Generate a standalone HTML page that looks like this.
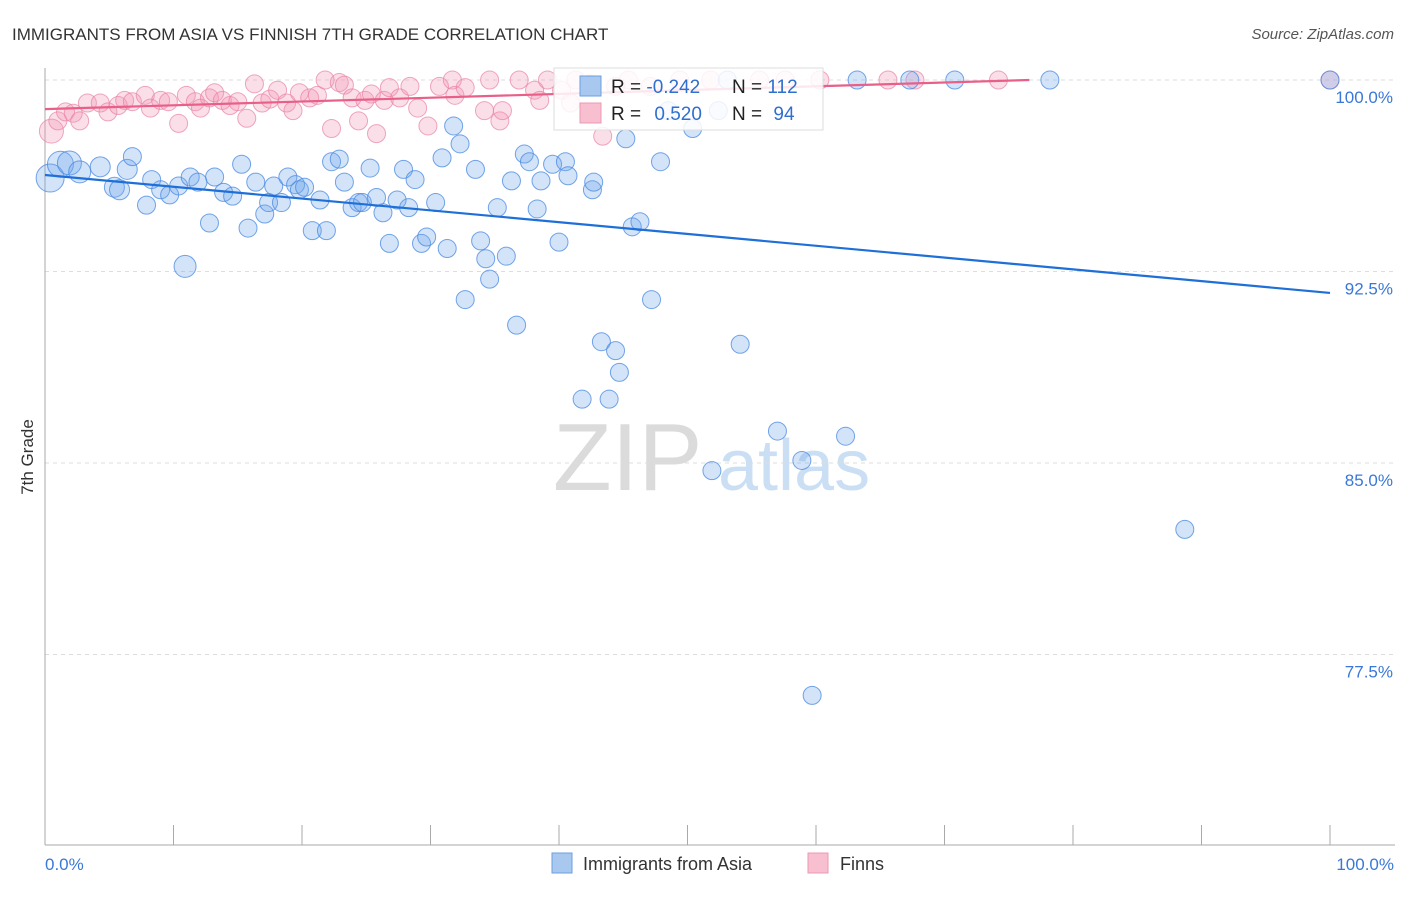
<!DOCTYPE html>
<html><head><meta charset="utf-8"><style>
body{margin:0;background:#fff;font-family:"Liberation Sans",sans-serif;}
svg text{font-family:"Liberation Sans",sans-serif;}
</style></head><body>
<svg id="chart" width="1406" height="892" xmlns="http://www.w3.org/2000/svg">
<text x="12" y="40" font-size="17" fill="#333">IMMIGRANTS FROM ASIA VS FINNISH 7TH GRADE CORRELATION CHART</text>
<text x="1394" y="39" font-size="15" fill="#555" font-style="italic" text-anchor="end">Source: ZipAtlas.com</text>
<text x="33" y="457" font-size="17" fill="#333" transform="rotate(-90 33 457)" text-anchor="middle">7th Grade</text>
<g opacity="0.9">
<text x="553" y="490" font-size="96" font-family="Liberation Serif" fill="#d8d8d8">ZIP</text>
<text x="718" y="490" font-size="72" fill="#c6dcf3">atlas</text>
</g>
<g id="grid"></g>
<g id="axes"></g>
<g id="pts"></g>
<g id="trend"></g>
<g>
<rect x="554" y="68" width="269" height="62" fill="#fff" fill-opacity="0.85" stroke="#ddd"/>
<rect x="580" y="76" width="21" height="20" fill="#a9c8f0" stroke="#6a9fe0"/>
<rect x="580" y="103" width="21" height="20" fill="#f7bfd0" stroke="#ec98b2"/>
<text x="611" y="93" font-size="19" fill="#222">R = <tspan fill="#2f6fd0">-0.242</tspan></text>
<text x="732" y="93" font-size="19" fill="#222">N = <tspan fill="#2f6fd0">112</tspan></text>
<text x="611" y="120" font-size="19" fill="#222">R = <tspan fill="#2f6fd0" dx="8">0.520</tspan></text>
<text x="732" y="120" font-size="19" fill="#222">N = <tspan fill="#2f6fd0" dx="6">94</tspan></text>
</g>
<g>
<rect x="552" y="853" width="20" height="20" fill="#a9c8f0" stroke="#6a9fe0"/>
<text x="583" y="870" font-size="18" fill="#333">Immigrants from Asia</text>
<rect x="808" y="853" width="20" height="20" fill="#f7bfd0" stroke="#ec98b2"/>
<text x="840" y="870" font-size="18" fill="#333">Finns</text>
</g>
</svg>
<script>
const yTicks=[100,92.5,85,77.5];
const yTickLabels=["100.0%","92.5%","85.0%","77.5%"];
const xTickLabels=["0.0%","100.0%"];
const asiaX=[0.4,1.2,1.9,2.7,4.3,5.4,5.8,6.4,6.8,7.9,8.3,9.0,9.7,10.4,10.9,11.3,11.9,12.8,13.2,13.9,14.6,15.3,15.8,16.4,17.1,17.4,17.8,18.4,18.9,19.5,19.8,20.2,20.8,21.4,21.9,22.3,22.9,23.3,23.9,24.4,24.7,25.3,25.8,26.3,26.8,27.4,27.9,28.3,28.8,29.3,29.7,30.4,30.9,31.3,31.8,32.3,32.7,33.5,33.9,34.3,34.6,35.2,35.9,36.3,36.7,37.3,37.7,38.3,38.6,39.5,40.0,40.5,40.7,42.6,42.7,41.8,43.3,43.9,44.4,44.7,45.2,45.7,46.3,47.2,47.9,48.5,50.4,51.9,52.4,53.1,54.1,57.0,58.9,59.7,62.3,63.2,67.3,70.8,78.2,88.7,100];
const asiaY=[96.16,96.7,96.75,96.4,96.6,95.8,95.7,96.5,97.0,95.1,96.1,95.7,95.5,95.85,92.7,96.2,96.0,94.4,96.2,95.6,95.45,96.7,94.2,96.0,94.75,95.2,95.85,95.2,96.2,95.9,95.7,95.8,94.1,95.3,94.1,96.8,96.9,96.0,95.0,95.2,95.2,96.55,95.4,94.8,93.6,95.3,96.5,95.0,96.1,93.6,93.85,95.2,96.95,93.4,98.2,97.5,91.4,96.5,93.7,93.0,92.2,95.0,93.1,96.05,90.4,97.1,96.8,94.95,96.05,96.7,93.65,96.8,96.25,95.7,96.0,87.5,89.75,87.5,89.4,88.55,97.7,94.25,94.45,91.4,96.8,98.8,98.1,84.7,98.8,100,89.65,86.25,85.1,75.9,86.05,100,100,100,100,82.4,100];
const asiaSize=[14,13,12,11,10,10,10,10,9,9,9,9,9,9,11];
const finnX=[0.5,1.0,1.6,2.2,2.7,3.3,4.3,4.9,5.7,6.2,6.8,7.8,8.2,9.0,9.6,10.4,11.0,11.7,12.1,12.8,13.2,13.8,14.4,15.0,15.7,16.3,16.9,17.5,18.1,18.8,19.3,19.8,20.6,21.2,21.8,22.3,22.9,23.3,23.9,24.4,24.9,25.4,25.8,26.4,26.8,27.6,28.4,29.0,29.8,30.7,31.7,31.9,32.7,34.2,34.6,35.4,35.6,36.9,38.1,38.5,39.1,40.2,40.9,41.3,42.4,43.4,44.4,45.4,47.1,49.4,51.8,55.6,57.6,60.3,65.6,67.7,74.2,100];
const finnY=[98.0,98.4,98.75,98.7,98.4,99.1,99.1,98.75,99.0,99.2,99.15,99.4,98.9,99.2,99.15,98.3,99.4,99.15,98.9,99.3,99.5,99.2,99.0,99.15,98.5,99.85,99.1,99.25,99.6,99.1,98.8,99.5,99.3,99.4,100,98.1,99.9,99.8,99.3,98.4,99.2,99.45,97.9,99.2,99.7,99.3,99.75,98.9,98.2,99.75,100,99.4,99.7,98.8,100,98.4,98.8,100,99.6,99.2,100,99.6,99.1,100,99.85,97.8,99.75,100,99.75,100,100,100,100,100,100,100,100,100];
const asiaTrend=[0,96.28,100,91.66];
const finnTrend=[0,98.86,76.6,100];

const NS="http://www.w3.org/2000/svg";
const X0=45,X1=1330,Y100=80,PXPER=191.5/7.5;
function sx(v){return X0+(X1-X0)*v/100;}
function sy(v){return Y100+(100-v)*PXPER;}
function mk(tag,attrs,parent){const e=document.createElementNS(NS,tag);for(const k in attrs)e.setAttribute(k,attrs[k]);parent.appendChild(e);return e;}
const grid=document.getElementById('grid'),axes=document.getElementById('axes'),pts=document.getElementById('pts'),trend=document.getElementById('trend');
yTicks.forEach((t,i)=>{
  const l=mk('line',{x1:X0,x2:1395,y1:sy(t),y2:sy(t),stroke:'#ddd','stroke-dasharray':'4,4'},grid);
  
  
  const tx=mk('text',{x:1393,y:sy(t)+23,'font-size':17,fill:'#3a78d8','text-anchor':'end'},axes);
  tx.textContent=yTickLabels[i];
  
  
});
const ya=mk('line',{x1:X0,x2:X0,y1:68,y2:845,stroke:'#aaa'},axes);


const xa=mk('line',{x1:X0,x2:1395,y1:845,y2:845,stroke:'#aaa'},axes);


for(let i=0;i<=10;i++){
  const t=mk('line',{x1:sx(i*10),x2:sx(i*10),y1:825,y2:845,stroke:'#aaa'},axes);
  
  
}
const xl0=mk('text',{x:45,y:870,'font-size':17,fill:'#3a78d8'},axes);xl0.textContent=xTickLabels[0];


const xl1=mk('text',{x:1394,y:870,'font-size':17,fill:'#3a78d8','text-anchor':'end'},axes);xl1.textContent=xTickLabels[1];


finnX.forEach((v,i)=>{
  const c=mk('circle',{cx:sx(v),cy:sy(finnY[i]),r:i==0?12:9,fill:'rgba(242,150,178,0.3)',stroke:'rgba(232,130,165,0.7)','stroke-width':1},pts);
  
  
});
asiaX.forEach((v,i)=>{
  const c=mk('circle',{cx:sx(v),cy:sy(asiaY[i]),r:asiaSize[i]||9,fill:'rgba(110,165,235,0.3)',stroke:'rgba(70,135,225,0.75)','stroke-width':1},pts);
  
  
});
const tb=mk('line',{x1:sx(asiaTrend[0]),y1:sy(asiaTrend[1]),x2:sx(asiaTrend[2]),y2:sy(asiaTrend[3]),stroke:'#1f6fd8','stroke-width':2.2},trend);


const tp=mk('line',{x1:sx(finnTrend[0]),y1:sy(finnTrend[1]),x2:sx(finnTrend[2]),y2:sy(finnTrend[3]),stroke:'#e8608a','stroke-width':2.2},trend);


</script>
</body></html>
